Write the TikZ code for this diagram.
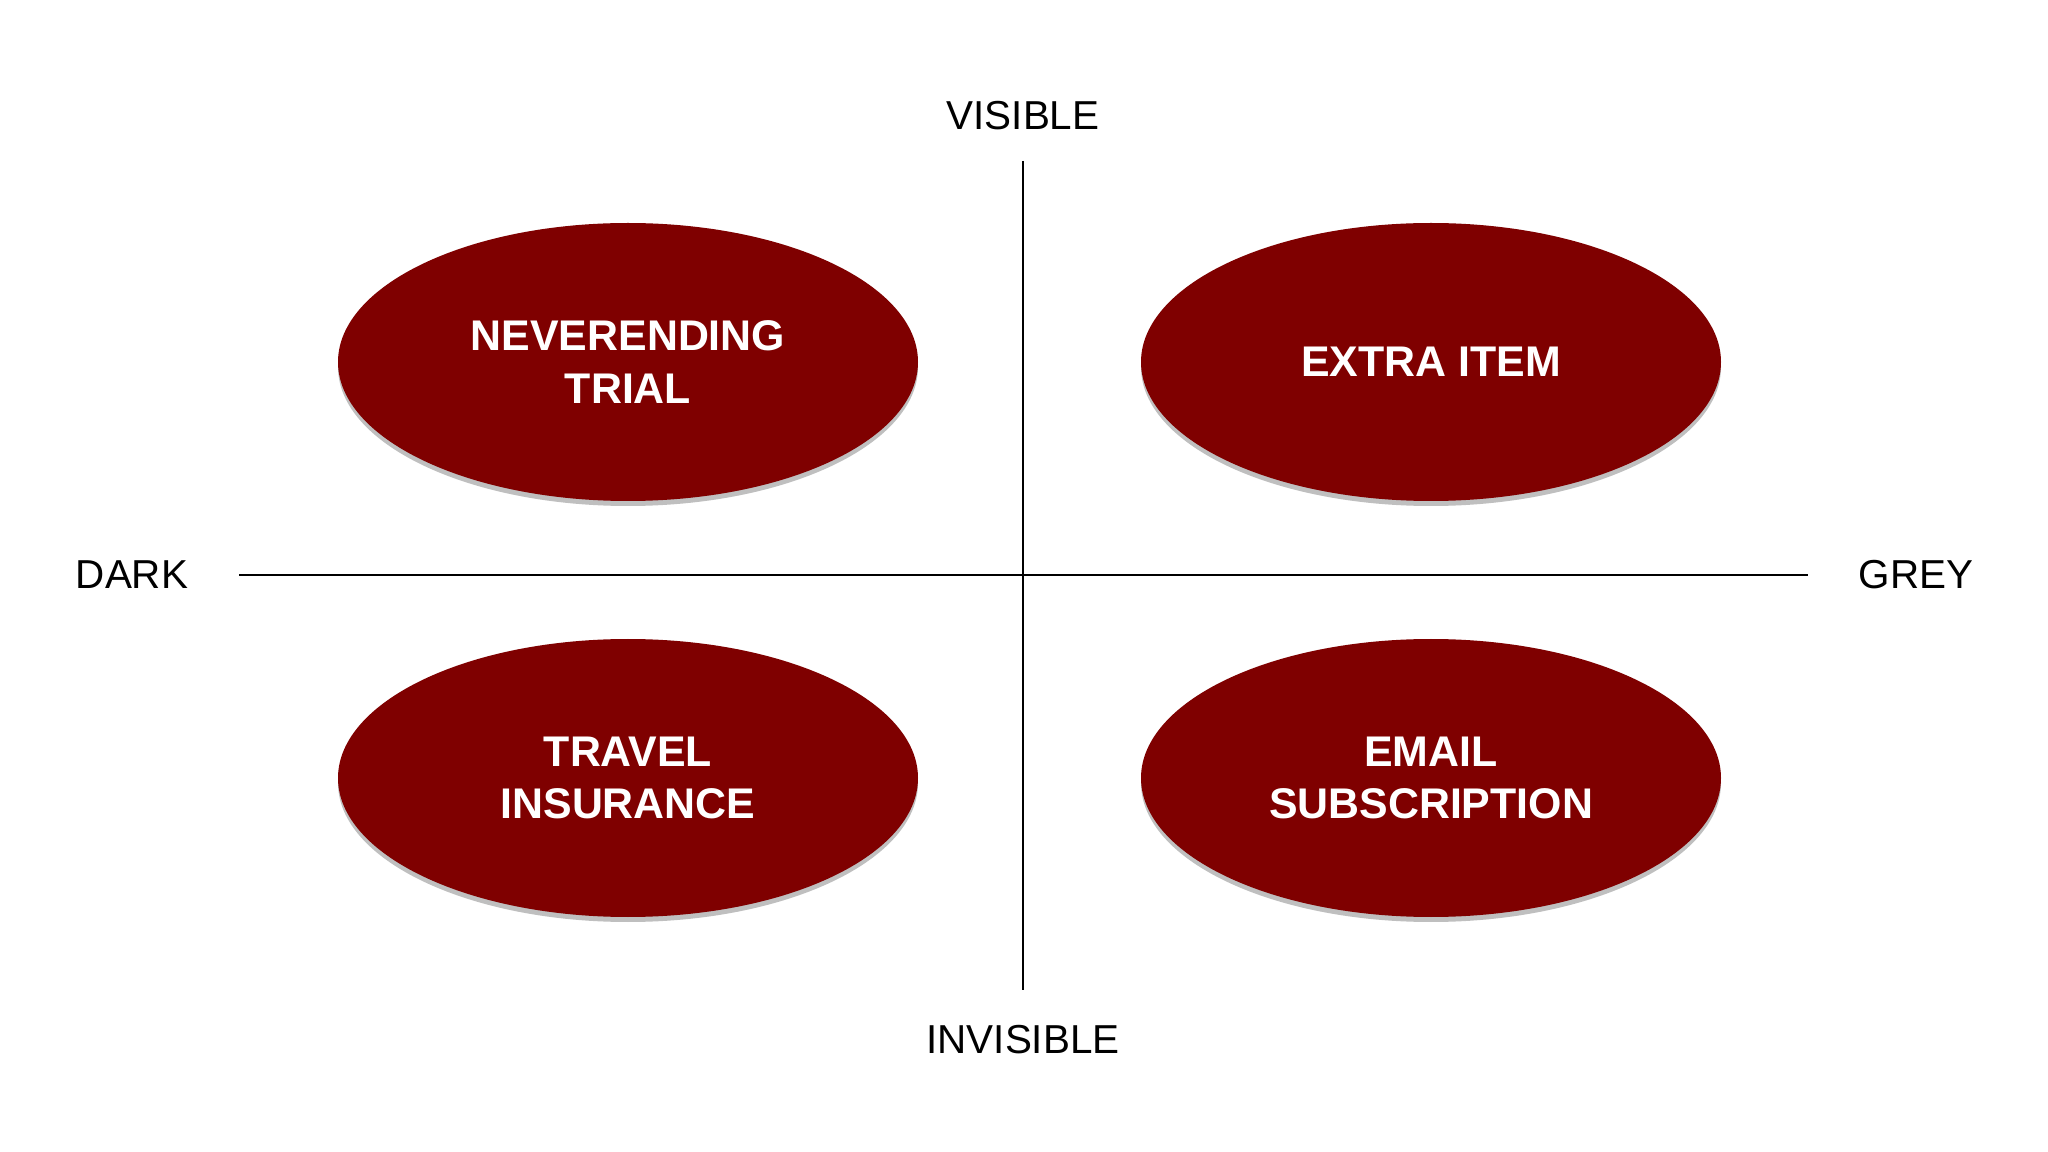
\documentclass[tikz,border=0pt]{standalone}
\usepackage{fontspec}
\setmainfont{Liberation Sans}
\usepackage{xcolor}
\usepackage{tikz}
\usetikzlibrary{positioning, shapes.geometric, shadows}

\definecolor{maroon}{RGB}{127,0,0}

\begin{document}
\begin{tikzpicture}[
          axis/.style={draw=black, line width=0.5pt},
          axislabel/.style={font=\fontsize{11.5}{14}\selectfont, text=black},
          quadrant/.style={ellipse, fill=maroon, minimum width=5.8cm, minimum height=2.78cm,
            text=white, align=center, font=\bfseries\fontsize{12.2}{15}\selectfont,
            drop shadow={shadow xshift=0pt, shadow yshift=-0.05cm, opacity=0.25, fill=black}}
        ]
          \useasboundingbox[fill=white] (0,0) rectangle (20.48,-11.52);
          % axes
          \coordinate (top) at (10.23,-1.61);
          \coordinate (bottom) at (10.23,-9.90);
          \coordinate (left) at (2.39,-5.75);
          \coordinate (right) at (18.08,-5.75);
          \draw[axis] (top) -- (bottom);
          \draw[axis] (left) -- (right);
          \node[axislabel] (visible) at (10.23,-1.16) {VISIBLE};
          \node[axislabel] (invisible) at (10.23,-10.40) {INVISIBLE};
          \node[axislabel] (dark) at (1.32,-5.75) {DARK};
          \node[axislabel] (grey) at (19.16,-5.75) {GREY};
          % quadrants
          \node[quadrant] (trial) at (6.28,-3.62) {NEVERENDING\\TRIAL};
          \node[quadrant] (extra) at (14.31,-3.62) {EXTRA ITEM};
          \node[quadrant] (travel) at (6.28,-7.78) {TRAVEL\\INSURANCE};
          \node[quadrant] (email) at (14.31,-7.78) {EMAIL\\SUBSCRIPTION};
        \end{tikzpicture}
\end{document}
